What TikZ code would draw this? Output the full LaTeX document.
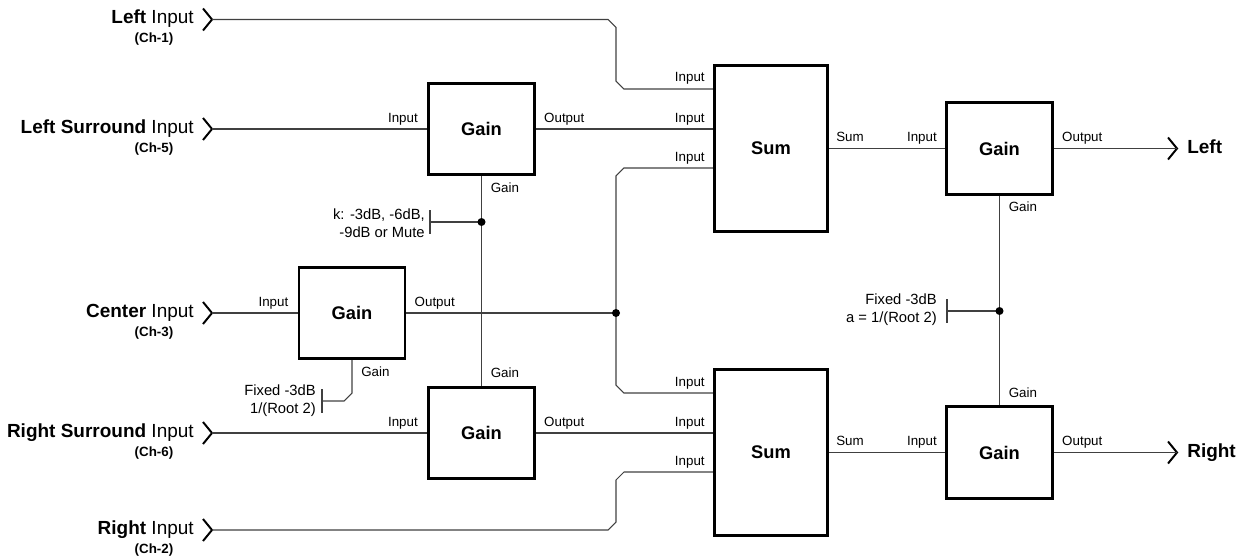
\documentclass[tikz,border=0pt]{standalone}
\usepackage{fontspec}
\setmainfont{Liberation Sans}
\usetikzlibrary{calc}

\begin{document}
\begin{tikzpicture}[x=0.025cm,y=-0.025cm,
		gain/.style={draw,line width=2pt,minimum width=2.65cm,minimum height=2.28cm,font=\fontsize{13}{15}\selectfont\bfseries},
		sum/.style={draw,line width=2pt,minimum width=2.83cm,minimum height=4.15cm,font=\fontsize{13}{15}\selectfont\bfseries},
		wire/.style={black!75,line width=0.75pt},
		lbl/.style={inner sep=0pt,font=\fontsize{9.5}{11}\selectfont},
		chan/.style={inner sep=0pt,font=\fontsize{13.5}{16}\selectfont},
		chno/.style={inner sep=0pt,font=\fontsize{9.5}{11}\selectfont\bfseries},
		note/.style={inner sep=0pt,align=right,font=\fontsize{10.5}{12.8}\selectfont},
		dot/.style={circle,fill,inner sep=0pt,minimum size=0.2cm},
		chev/.pic={\draw[line width=1.4pt] (-9,-11) -- (0,0) -- (-9,11);}]
		\useasboundingbox (0,0) rectangle (1240,558);
		
		% blocks
		\node[gain] (gLS) at (481.5,129) {Gain};
		\node[gain] (gC) at (352,313) {Gain};
		\node[gain] (gRS) at (481.5,433) {Gain};
		\node[sum] (sumL) at (771,148.5) {Sum};
		\node[sum] (sumR) at (771,452.5) {Sum};
		\node[gain] (gL) at (999.5,148.5) {Gain};
		\node[gain] (gR) at (999.5,452.5) {Gain};
		
		\coordinate (sL1) at ($(sumL.west)+(0,-59.5)$);
		\coordinate (sL2) at ($(sumL.west)+(0,-19.5)$);
		\coordinate (sL3) at ($(sumL.west)+(0,19.5)$);
		\coordinate (sR1) at ($(sumR.west)+(0,-59.5)$);
		\coordinate (sR2) at ($(sumR.west)+(0,-19.5)$);
		\coordinate (sR3) at ($(sumR.west)+(0,19.5)$);
		
		\coordinate (inL) at (212,19.5);
		\coordinate (inLS) at (212,129);
		\coordinate (inC) at (212,313);
		\coordinate (inRS) at (212,433);
		\coordinate (inR) at (212,530);
		\coordinate (outL) at (1177,148.5);
		\coordinate (outR) at (1177,452.5);
		
		\coordinate (jC) at (616,313);
		\coordinate (jK) at (481.5,222);
		\coordinate (kbar) at (430,222);
		\coordinate (jA) at (999.5,311);
		\coordinate (abar) at (947,311);
		\coordinate (fbar) at (322,401);
		
		% inputs and outputs
		\foreach \p in {inL,inLS,inC,inRS,inR,outL,outR}
			\pic at (\p) {chev};
		
		\node[chan,anchor=base east] (nL) at ($(inL)+(-18,4.5)$) {\textbf{Left} Input};
		\node[chno,anchor=base] (cL) at ($(inL)+(-58,23)$) {(Ch-1)};
		\node[chan,anchor=base east] (nLS) at ($(inLS)+(-18,4.5)$) {\textbf{Left Surround} Input};
		\node[chno,anchor=base] (cLS) at ($(inLS)+(-58,23)$) {(Ch-5)};
		\node[chan,anchor=base east] (nC) at ($(inC)+(-18,4.5)$) {\textbf{Center} Input};
		\node[chno,anchor=base] (cC) at ($(inC)+(-58,23)$) {(Ch-3)};
		\node[chan,anchor=base east] (nRS) at ($(inRS)+(-18,4.5)$) {\textbf{Right Surround} Input};
		\node[chno,anchor=base] (cRS) at ($(inRS)+(-58,23)$) {(Ch-6)};
		\node[chan,anchor=base east] (nR) at ($(inR)+(-18,4.5)$) {\textbf{Right} Input};
		\node[chno,anchor=base] (cR) at ($(inR)+(-58,23)$) {(Ch-2)};
		\node[chan,anchor=base west] (nOL) at ($(outL)+(10,5)$) {\textbf{Left}};
		\node[chan,anchor=base west] (nOR) at ($(outR)+(10,5)$) {\textbf{Right}};
		
		% wires
		\draw[wire] (inL) -- ++(396,0) -- ++(8,8) -- ($(sL1)+(-97,-8)$) -- ++(8,8) -- (sL1);
		\draw[wire] (inLS) -- (gLS.west);
		\draw[wire] (gLS.east) -- (sL2);
		\draw[wire] (inC) -- (gC.west);
		\draw[wire] (gC.east) -- (jC);
		\draw[wire] (jC) -- ($(sL3)+(-97,8)$) -- ++(8,-8) -- (sL3);
		\draw[wire] (jC) -- ($(sR1)+(-97,-8)$) -- ++(8,8) -- (sR1);
		\draw[wire] (inRS) -- (gRS.west);
		\draw[wire] (gRS.east) -- (sR2);
		\draw[wire] (inR) -- ++(396,0) -- ++(8,-8) -- ($(sR3)+(-97,8)$) -- ++(8,-8) -- (sR3);
		\draw[wire] (sumL.east) -- (gL.west);
		\draw[wire] (sumR.east) -- (gR.west);
		\draw[wire] (gL.east) -- (outL);
		\draw[wire] (gR.east) -- (outR);
		
		% gain controls
		\draw[wire] (gLS.south) -- (gRS.north);
		\draw[wire] (gL.south) -- (gR.north);
		\draw[wire] (jK) -- (kbar);
		\draw[wire] ($(kbar)+(0,-12)$) -- ($(kbar)+(0,12)$);
		\draw[wire] (jA) -- (abar);
		\draw[wire] ($(abar)+(0,-12)$) -- ($(abar)+(0,12)$);
		\draw[wire] (gC.south) -- ++(0,33) -- ++(-8,8) -- (fbar);
		\draw[wire] ($(fbar)+(0,-12)$) -- ($(fbar)+(0,12)$);
		\node[dot] (dC) at (jC) {};
		\node[dot] (dK) at (jK) {};
		\node[dot] (dA) at (jA) {};
		
		\node[note,anchor=east] (kTxt) at ($(kbar)+(-5,1)$) {k: -3dB, -6dB,\\-9dB or Mute};
		\node[note,anchor=east] (fTxt) at ($(fbar)+(-6,0)$) {Fixed -3dB\\1/(Root 2)};
		\node[note,anchor=east] (aTxt) at ($(abar)+(-10,-1)$) {Fixed -3dB\\a = 1/(Root 2)};
		
		% port labels
		\node[lbl,anchor=base east] (tLSi) at ($(gLS.west)+(-9,-7)$) {Input};
		\node[lbl,anchor=base west] (tLSo) at ($(gLS.east)+(8,-7)$) {Output};
		\node[lbl,anchor=base west] (tLSg) at ($(gLS.south)+(9,16)$) {Gain};
		\node[lbl,anchor=base east] (tCi) at ($(gC.west)+(-9,-7)$) {Input};
		\node[lbl,anchor=base west] (tCo) at ($(gC.east)+(8,-7)$) {Output};
		\node[lbl,anchor=base west] (tCg) at ($(gC.south)+(9,16)$) {Gain};
		\node[lbl,anchor=base east] (tRSi) at ($(gRS.west)+(-9,-7)$) {Input};
		\node[lbl,anchor=base west] (tRSo) at ($(gRS.east)+(8,-7)$) {Output};
		\node[lbl,anchor=base west] (tRSg) at ($(gRS.north)+(9,-8)$) {Gain};
		\foreach \p in {sL1,sL2,sL3,sR1,sR2,sR3}
			\node[lbl,anchor=base east] (t\p) at ($(\p)+(-8,-7)$) {Input};
		\node[lbl,anchor=base west] (tsumL) at ($(sumL.east)+(7,-7)$) {Sum};
		\node[lbl,anchor=base west] (tsumR) at ($(sumR.east)+(7,-7)$) {Sum};
		\node[lbl,anchor=base east] (tLi) at ($(gL.west)+(-8,-7)$) {Input};
		\node[lbl,anchor=base west] (tLo) at ($(gL.east)+(8,-7)$) {Output};
		\node[lbl,anchor=base west] (tLg) at ($(gL.south)+(9,16)$) {Gain};
		\node[lbl,anchor=base east] (tRi) at ($(gR.west)+(-8,-7)$) {Input};
		\node[lbl,anchor=base west] (tRo) at ($(gR.east)+(8,-7)$) {Output};
		\node[lbl,anchor=base west] (tRg) at ($(gR.north)+(9,-8)$) {Gain};
	\end{tikzpicture}
\end{document}
